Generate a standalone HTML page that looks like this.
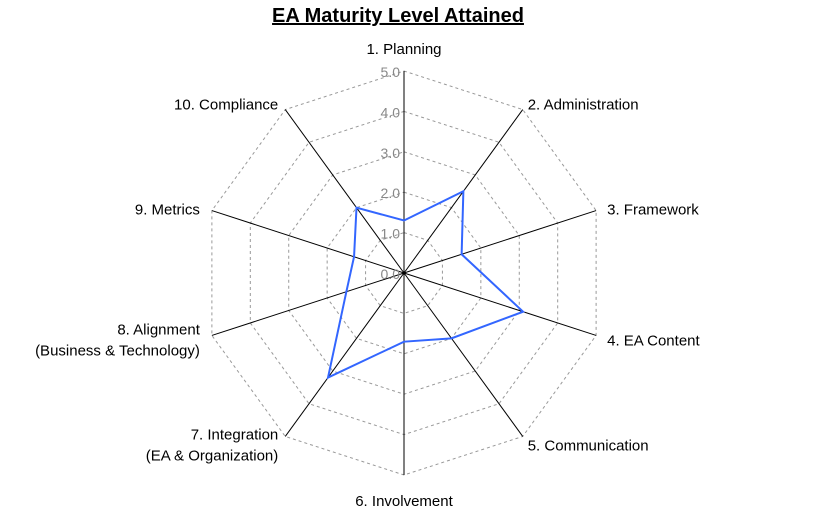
<!DOCTYPE html>
<html><head><meta charset="utf-8"><style>
html,body{margin:0;padding:0;background:#fff;}
svg{display:block;font-family:"Liberation Sans",Arial,sans-serif;}
</style></head><body>
<svg id="chart" width="826" height="513">
<text x="398" y="22" text-anchor="middle" font-size="20" font-weight="bold" text-decoration="underline">EA Maturity Level Attained</text>
<g id="grid"></g><g id="axes"></g><g id="ticks"></g><g id="labels"></g><g id="series"></g>
</svg>
<script>
const categories = ["1. Planning","2. Administration","3. Framework","4. EA Content","5. Communication","6. Involvement","7. Integration\n(EA & Organization)","8. Alignment\n(Business & Technology)","9. Metrics","10. Compliance"];
const values = [1.3,2.5,1.5,3.1,2.0,1.7,3.2,1.5,1.3,2.0];
const tickLabels = ["0.0","1.0","2.0","3.0","4.0","5.0"];
const maxVal = 5;
const cx=404, cy=273, R=202, N=categories.length;
const labelDX=[0,5,11,11,5,0,-7,-12,-12,-7];
const labelDY=[-17,0,4,10,14,31,3,-1,4,0];
const NS="http://www.w3.org/2000/svg";
function ang(i){return i*2*Math.PI/N;}
function pt(i,v){const r=v/maxVal*R;return [cx+r*Math.sin(ang(i)), cy-r*Math.cos(ang(i))];}
function mk(tag,attrs,parent){const e=document.createElementNS(NS,tag);for(const k in attrs)e.setAttribute(k,attrs[k]);parent.appendChild(e);return e;}
const g=document.getElementById('grid'),ax=document.getElementById('axes'),tk=document.getElementById('ticks'),lb=document.getElementById('labels'),se=document.getElementById('series');
for(let t=1;t<tickLabels.length;t++){
  const v=parseFloat(tickLabels[t]);
  const pts=[];for(let i=0;i<N;i++)pts.push(pt(i,v).join(','));
  const p=mk('polygon',{points:pts.join(' '),fill:'none',stroke:'#999','stroke-dasharray':'3,3','stroke-width':1},g);
  
  
}
for(let i=0;i<N;i++){
  const e=pt(i,maxVal);
  const l=mk('line',{x1:cx,y1:cy,x2:e[0],y2:e[1],stroke:'#000','stroke-width':1},ax);
  
  
}
for(let t=0;t<tickLabels.length;t++){
  const v=parseFloat(tickLabels[t]);const p=pt(0,v);
  const tx=mk('text',{x:p[0]-4,y:p[1]+6,'text-anchor':'end','font-size':14,fill:'#888'},tk);
  tx.textContent=tickLabels[t];
  
  
}
for(let i=0;i<N;i++){
  const p=pt(i,maxVal);
  const s=Math.sin(ang(i));
  let anchor='middle';
  if(s>0.1)anchor='start';else if(s<-0.1)anchor='end';
  const x=p[0]+labelDX[i], y=p[1]+labelDY[i];
  const lines=categories[i].split('\n');
  const tx=mk('text',{x:x,y:y,'text-anchor':anchor,'font-size':15,fill:'#000'},lb);
  lines.forEach((ln,k)=>{const ts=mk('tspan',{x:x,dy:k?21:0},tx);ts.textContent=ln;});
  
  
}
const pts=values.map((v,i)=>pt(i,v).join(','));
const poly=mk('polygon',{points:pts.join(' '),fill:'none',stroke:'#3366ff','stroke-width':2},se);


</script>
</body></html>
